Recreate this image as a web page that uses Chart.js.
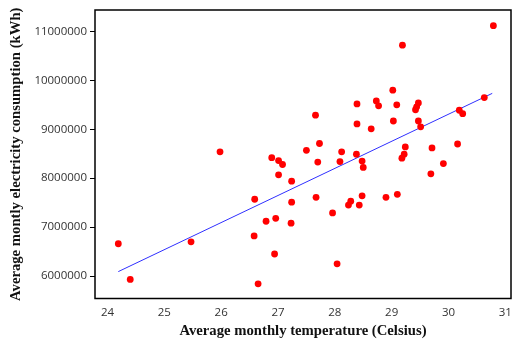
<!DOCTYPE html>
<html>
<head>
<meta charset="utf-8">
<script src="https://cdn.jsdelivr.net/npm/chart.js@4"></script>
<style>
  html, body { margin: 0; padding: 0; background: #fff; }
  #wrap { width: 515px; height: 340px; }
</style>
</head>
<body>
<div id="wrap"><canvas id="chart" width="515" height="340"></canvas></div>
<script>
// temperature (Celsius) and consumption (kWh)
const temps = [
  24.19, 24.40, 25.47, 25.98, 26.59, 26.58, 26.65, 26.79, 26.89, 26.94,
  26.96, 27.01, 27.01, 27.08, 27.23, 27.24, 27.24, 27.50, 27.66, 27.67,
  27.70, 27.73, 27.96, 28.04, 28.09, 28.12, 28.24, 28.28, 28.38, 28.39,
  28.39, 28.43, 28.48, 28.48, 28.50, 28.64, 28.73, 28.77, 28.90, 29.02,
  29.03, 29.09, 29.10, 29.18, 29.19, 29.22, 29.24, 29.42, 29.44, 29.47,
  29.47, 29.51, 29.69, 29.71, 29.91, 30.16, 30.19, 30.25, 30.63, 30.79
];
const consumption = [
  6660000, 5930000, 6700000, 8540000, 7570000, 6820000, 5840000, 7120000, 8420000, 6450000,
  7180000, 8360000, 8070000, 8280000, 7080000, 7940000, 7510000, 8570000, 9290000, 7610000,
  8330000, 8710000, 7290000, 6250000, 8340000, 8540000, 7450000, 7530000, 8490000, 9520000,
  9110000, 7450000, 8350000, 7640000, 8220000, 9010000, 9580000, 9480000, 7610000, 9800000,
  9170000, 9500000, 7670000, 8410000, 10720000, 8490000, 8640000, 9400000, 9460000, 9540000,
  9170000, 9050000, 8090000, 8620000, 8300000, 8700000, 9390000, 9320000, 9650000, 11120000
];

// fitted line end points
const fitX = [24.19, 30.77];
const fitY = [6090000, 9735000];

const xTicks = [24, 25, 26, 27, 28, 29, 30, 31];
const yTicks = [6000000, 7000000, 8000000, 9000000, 10000000, 11000000];

const points = temps.map((t, i) => ({ x: t, y: consumption[i] }));
const fit = fitX.map((t, i) => ({ x: t, y: fitY[i] }));

const tickFont = { family: "'Open Sans', 'Noto Sans', sans-serif", size: 11.5 };
const titleFont = { family: "'Liberation Serif', 'DejaVu Serif', serif", size: 14.7, weight: "bold" };

const frame = {
  id: "frame",
  afterDraw(chart) {
    const { ctx, chartArea: a } = chart;
    ctx.save();
    ctx.strokeStyle = "#000";
    ctx.lineWidth = 1.5;
    ctx.strokeRect(a.left, a.top, a.right - a.left, a.bottom - a.top);
    ctx.restore();
  }
};

new Chart(document.getElementById("chart"), {
  type: "scatter",
  data: {
    datasets: [
      {
        data: points,
        backgroundColor: "#ff0000",
        borderWidth: 0,
        pointRadius: 3.4,
        order: 1
      },
      {
        type: "line",
        data: fit,
        borderColor: "#2f2fff",
        borderWidth: 1,
        pointRadius: 0,
        fill: false,
        order: 2
      }
    ]
  },
  options: {
    responsive: false,
    animation: false,
    layout: { padding: { top: 10, right: 2, left: 0, bottom: 0 } },
    plugins: {
      legend: { display: false },
      tooltip: { enabled: false }
    },
    scales: {
      x: {
        type: "linear",
        min: 23.78,
        max: 31.1,
        afterBuildTicks: s => { s.ticks = xTicks.map(v => ({ value: v })); },
        afterFit: s => {
          s.height = 41.5;
          s.paddingLeft = 0;
          s.paddingRight = 0;
        },
        grid: { display: false, drawTicks: false },
        border: { display: false },
        ticks: { font: tickFont, color: "#333", padding: 7, maxRotation: 0 },
        title: {
          display: true,
          text: "Average monthly temperature (Celsius)",
          font: titleFont,
          color: "#111",
          padding: { top: 0, bottom: 0 }
        }
      },
      y: {
        type: "linear",
        min: 5540000,
        max: 11440000,
        afterBuildTicks: s => { s.ticks = yTicks.map(v => ({ value: v })); },
        afterFit: s => { s.width = 95; },
        grid: { drawOnChartArea: false, drawTicks: true, tickLength: 5, tickColor: "#000" },
        border: { display: false },
        ticks: { font: tickFont, color: "#333", padding: 3, callback: v => String(v) },
        title: {
          display: true,
          text: "Average montly electricity consumption (kWh)",
          font: titleFont,
          color: "#111",
          padding: { top: 7, bottom: 0 }
        }
      }
    }
  },
  plugins: [frame]
});
</script>
</body>
</html>
